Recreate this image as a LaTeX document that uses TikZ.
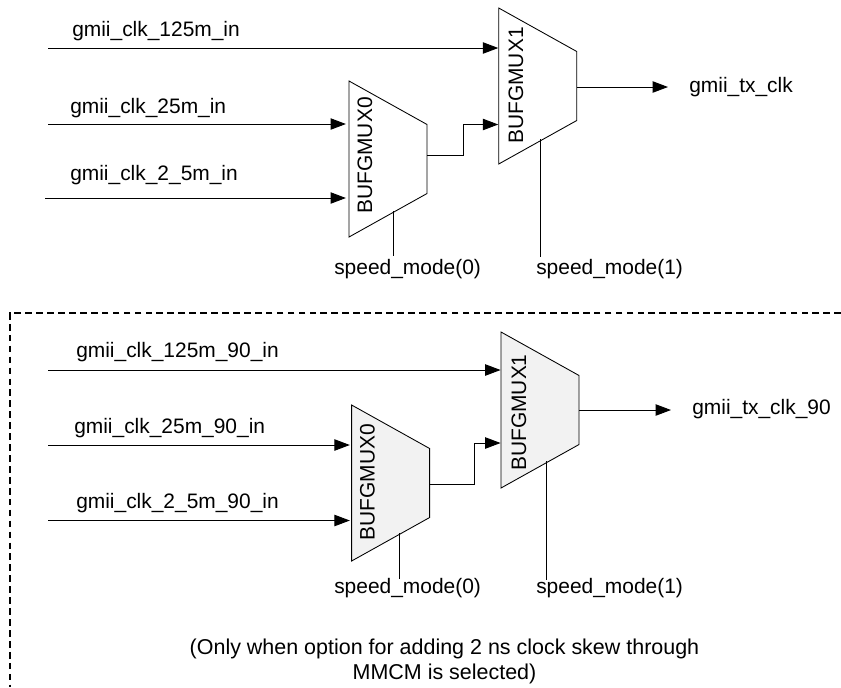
\documentclass[tikz,border=0pt]{standalone}
\usepackage{fontspec}
\setmainfont{Liberation Sans}
\usetikzlibrary{arrows.meta, positioning, shapes.geometric}

\tikzset{
  mux/.style={draw, trapezium, rotate=-90, trapezium stretches=true, trapezium angle=59.2,
    minimum width=117pt, minimum height=58.5pt, inner sep=0pt, line width=0.65pt},
  muxname/.style={rotate=90, inner sep=0pt, font=\fontsize{15.7pt}{18pt}\selectfont},
  sig/.style={inner sep=0pt, anchor=base west, font=\fontsize{15.7pt}{18pt}\selectfont},
  wire/.style={line width=0.7pt},
  arr/.style={line width=0.7pt, -{Triangle[length=11.5pt,width=8.5pt]}},
}

\begin{document}
\begin{tikzpicture}[x=0.75pt, y=-0.75pt]
        \useasboundingbox (0,0) rectangle (841,687);

        % top group
        \node[mux] (mux0) at (388,159) {\phantom{x}};
        \node[mux] (mux1) at (537.7,86) {\phantom{x}};
        \node[muxname] (name0) at (365,155.5) {BUFGMUX0};
        \node[muxname] (name1) at (516,85.5) {BUFGMUX1};

        \node[sig] (clk125) at (72,36) {gmii\_clk\_125m\_in};
        \node[sig] (clk25) at (70,113) {gmii\_clk\_25m\_in};
        \node[sig] (clk2) at (70,180) {gmii\_clk\_2\_5m\_in};
        \node[sig] (tx) at (689,92) {gmii\_tx\_clk};
        \node[sig] (speed0) at (334,274.5) {speed\_mode(0)};
        \node[sig] (speed1) at (536,274.5) {speed\_mode(1)};

        \coordinate (in125) at (48,48);
        \coordinate (in25) at (48,124);
        \coordinate (in2) at (45,198);
        \coordinate (sel0) at (393,211);
        \coordinate (sel1) at (540.7,139);
        \coordinate (txin) at (668,87);
        \coordinate (out0) at (463,155);
        \coordinate (join1) at (463,124.5);

        \draw[arr] (in125) -- (in125 -| mux1.south);
        \draw[arr, shorten >=2pt] (in25) -- (in25 -| mux0.south);
        \draw[arr, shorten >=2pt] (in2) -- (in2 -| mux0.south);
        \draw[arr] (mux0.north |- out0) -- (out0) -- (join1) -- (join1 -| mux1.south);
        \draw[arr] (mux1.north |- txin) -- (txin);
        \draw[wire] (sel0) -- (393,256);
        \draw[wire] (sel1) -- (540.7,257);

        % bottom group
        \draw[line width=1.1pt, dash pattern=on 5pt off 3.2pt] (841,313) -- (10,313) -- (10,687);

        \node[mux, fill=black!5] (mux0b) at (390.6,483) {\phantom{x}};
        \node[mux, fill=black!5] (mux1b) at (540,410) {\phantom{x}};
        \node[muxname] (name0b) at (367.5,482) {BUFGMUX0};
        \node[muxname] (name1b) at (519,412.5) {BUFGMUX1};

        \node[sig] (clk125b) at (76,357.5) {gmii\_clk\_125m\_90\_in};
        \node[sig] (clk25b) at (74,433.5) {gmii\_clk\_25m\_90\_in};
        \node[sig] (clk2b) at (76,508.5) {gmii\_clk\_2\_5m\_90\_in};
        \node[sig] (txb) at (692,414) {gmii\_tx\_clk\_90};
        \node[sig] (speed0b) at (334,593) {speed\_mode(0)};
        \node[sig] (speed1b) at (536,593) {speed\_mode(1)};
        \node[inner sep=0pt, align=center, font=\fontsize{16.1pt}{18.75pt}\selectfont] (note) at (444.5,661)
          {(Only when option for adding 2 ns clock skew through\\MMCM is selected)};

        \coordinate (in125b) at (48,370);
        \coordinate (in25b) at (48,445);
        \coordinate (in2b) at (48,520.5);
        \coordinate (sel0b) at (399,533);
        \coordinate (sel1b) at (546.7,461);
        \coordinate (txinb) at (671,410);
        \coordinate (out0b) at (474.5,484);
        \coordinate (join1b) at (474.5,443);

        \draw[arr] (in125b) -- (in125b -| mux1b.south);
        \draw[arr, shorten >=1pt] (in25b) -- (in25b -| mux0b.south);
        \draw[arr, shorten >=1pt] (in2b) -- (in2b -| mux0b.south);
        \draw[arr] (mux0b.north |- out0b) -- (out0b) -- (join1b) -- (join1b -| mux1b.south);
        \draw[arr] (mux1b.north |- txinb) -- (txinb);
        \draw[wire] (sel0b) -- (399,579);
        \draw[wire] (sel1b) -- (546.7,580);
\end{tikzpicture}
\end{document}
